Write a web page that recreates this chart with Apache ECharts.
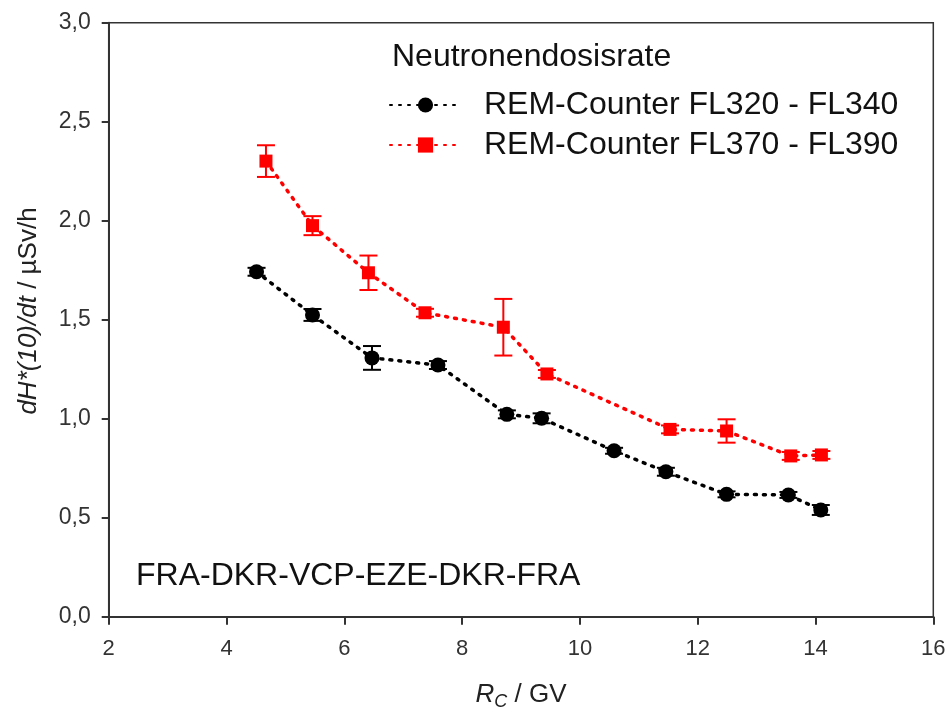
<!DOCTYPE html>
<html><head><meta charset="utf-8">
<script src="https://cdn.jsdelivr.net/npm/echarts@6/dist/echarts.min.js"></script>
<style>html,body{margin:0;padding:0;background:#fff}#c{width:951px;height:719px}</style>
</head><body><div id="c"></div>
<script>
const blackName = 'REM-Counter FL320 - FL340';
const redName = 'REM-Counter FL370 - FL390';
const blackX = [4.51, 5.46, 6.47, 7.59, 8.76, 9.35, 10.58, 11.46, 12.49, 13.54, 14.09];
const blackY = [1.742, 1.524, 1.307, 1.271, 1.022, 1.002, 0.838, 0.732, 0.618, 0.615, 0.539];
const blackErr = [0.02, 0.03, 0.06, 0.02, 0.02, 0.025, 0.015, 0.02, 0.015, 0.015, 0.025];
const redX = [4.67, 5.46, 6.41, 7.37, 8.70, 9.44, 11.53, 12.49, 13.58, 14.10];
const redY = [2.301, 1.975, 1.737, 1.535, 1.462, 1.226, 0.946, 0.938, 0.812, 0.817];
const redErr = [0.08, 0.048, 0.087, 0.02, 0.143, 0.02, 0.02, 0.059, 0.02, 0.02];
const xTicks = [2, 4, 6, 8, 10, 12, 14, 16];
const yTicks = [0, 0.5, 1.0, 1.5, 2.0, 2.5, 3.0];
const routeLabel = 'FRA-DKR-VCP-EZE-DKR-FRA';
const legendTitle = 'Neutronendosisrate';

const FONT = '"Liberation Sans", Arial, sans-serif';
function errData(xs, ys, es){ return xs.map((x,i)=>[x, ys[i]-es[i], ys[i]+es[i]]); }
function errSeries(xs, ys, es, color){
  return {
    type:'custom', data: errData(xs, ys, es), z: 1, silent:true,
    renderItem(params, api){
      const x = api.value(0), lo = api.value(1), hi = api.value(2);
      const p1 = api.coord([x, hi]), p2 = api.coord([x, lo]);
      const hw = 9, st = {stroke: color, lineWidth: 2};
      return {type:'group', children:[
        {type:'line', shape:{x1:p1[0], y1:p1[1], x2:p2[0], y2:p2[1]}, style:st},
        {type:'line', shape:{x1:p1[0]-hw, y1:p1[1], x2:p1[0]+hw, y2:p1[1]}, style:st},
        {type:'line', shape:{x1:p2[0]-hw, y1:p2[1], x2:p2[0]+hw, y2:p2[1]}, style:st}
      ]};
    }
  };
}
const chart = echarts.init(document.getElementById('c'));
chart.setOption({
  animation:false,
  backgroundColor:'#fff',
  textStyle:{fontFamily:FONT},
  grid:{left:108.7, right:17.7, top:22.7, bottom:102.3, show:true, borderColor:'#333', borderWidth:1.5, backgroundColor:'transparent'},
  title:{text:legendTitle, left:387, top:36, textStyle:{fontFamily:FONT, fontSize:32, fontWeight:'normal', color:'#111'}},
  legend:{
    orient:'vertical', left:389, top:89, padding:0, itemWidth:71, itemHeight:19, itemGap:8,
    data:[blackName, redName],
    textStyle:{fontFamily:FONT, fontSize:32, color:'#111', lineHeight:32, padding:[0,0,0,18]}
  },
  xAxis:{
    type:'value', min:2, max:16, interval:2,
    axisLine:{lineStyle:{color:'#333', width:2}},
    axisTick:{inside:false, length:8, lineStyle:{color:'#333', width:2}},
    axisLabel:{fontFamily:FONT, fontSize:22, color:'#333', margin:21},
    splitLine:{show:false},
    name:'{i|R}{s|C}{n| / GV}', nameLocation:'middle', nameGap:62,
    nameTextStyle:{rich:{
      i:{fontFamily:FONT, fontSize:26, fontStyle:'italic', color:'#222'},
      s:{fontFamily:FONT, fontSize:18, fontStyle:'italic', color:'#222', verticalAlign:'bottom', padding:[14,0,0,0]},
      n:{fontFamily:FONT, fontSize:26, color:'#222'}
    }}
  },
  yAxis:{
    type:'value', min:0, max:3, interval:0.5,
    axisLine:{lineStyle:{color:'#333', width:2}},
    axisTick:{inside:false, length:7, lineStyle:{color:'#333', width:2}},
    axisLabel:{fontFamily:FONT, fontSize:23, color:'#333', margin:18, formatter:v=>v.toFixed(1).replace('.', ',')},
    splitLine:{show:false}
  },
  graphic:[
    {type:'text', left:136, top:560, style:{text:routeLabel, fontFamily:FONT, fontSize:32, fill:'#111'}},
    {type:'text', x:29, y:311, rotation:Math.PI/2, style:{
      text:'{i|dH*(10)/dt}{n| / µSv/h}', align:'center', verticalAlign:'middle',
      rich:{
        i:{fontFamily:FONT, fontSize:26, fontStyle:'italic', fill:'#222'},
        n:{fontFamily:FONT, fontSize:26, fill:'#222'}
      }}}
  ],
  series:[
    errSeries(blackX, blackY, blackErr, '#000'),
    errSeries(redX, redY, redErr, '#ff0000'),
    {name:blackName, type:'line', data: blackX.map((x,i)=>[x, blackY[i]]), z:3,
     symbol:'circle', symbolSize:15, itemStyle:{color:'#000'},
     lineStyle:{color:'#000', width:3.5, type:[2,7], cap:'round'}},
    {name:redName, type:'line', data: redX.map((x,i)=>[x, redY[i]]), z:3,
     symbol:'rect', symbolSize:13, itemStyle:{color:'#ff0000'},
     lineStyle:{color:'#ff0000', width:3.5, type:[2,7], cap:'round'}}
  ]
});
</script></body></html>
